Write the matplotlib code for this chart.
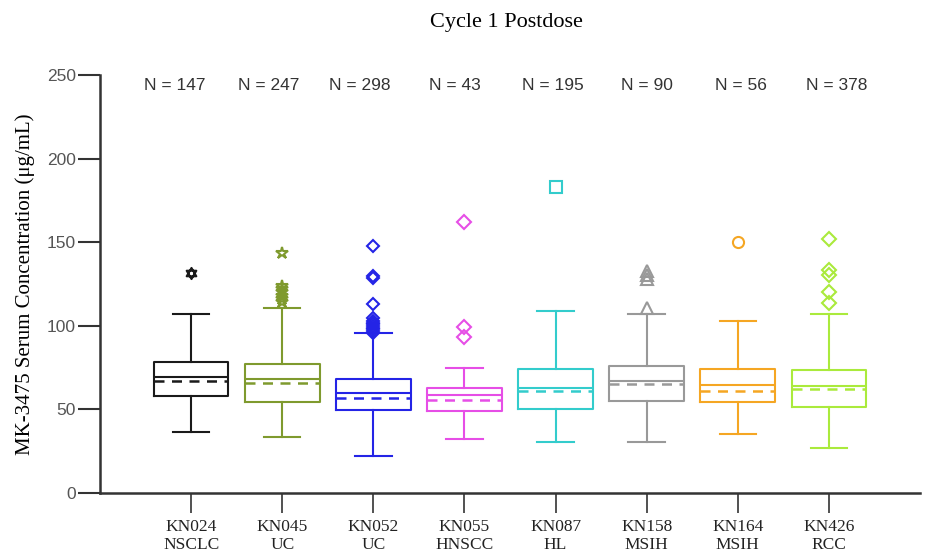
import matplotlib
matplotlib.use("Agg")
import matplotlib.pyplot as plt
from matplotlib.path import Path

# Study / tumour labels and sample sizes
studies = ["KN024", "KN045", "KN052", "KN055", "KN087", "KN158", "KN164", "KN426"]
tumours = ["NSCLC", "UC", "UC", "HNSCC", "HL", "MSIH", "MSIH", "RCC"]
n_counts = [147, 247, 298, 43, 195, 90, 56, 378]

# Box summary values (ug/mL)
whisk_lo = [36.5, 33.3, 22.3, 32.3, 30.7, 30.7, 35.3, 26.7]
q1 = [58.0, 54.4, 49.5, 49.2, 50.2, 55.2, 54.4, 51.3]
medians = [69.2, 68.0, 60.0, 58.6, 63.0, 67.2, 64.4, 63.8]
means = [67.0, 66.0, 56.8, 55.4, 60.8, 65.2, 60.8, 62.0]
q3 = [78.3, 77.0, 68.0, 63.0, 74.3, 76.0, 74.3, 73.6]
whisk_hi = [107.0, 110.6, 95.5, 74.6, 108.9, 107.0, 102.9, 107.2]
outliers = [
    [131.4],
    [143.5, 124.0, 122.0, 120.0, 118.0, 116.0, 114.0],
    [148.0, 130.0, 128.5, 113.0, 104.5, 103.0, 102.0, 101.0, 100.0, 99.0, 98.0, 97.0, 96.0],
    [162.0, 99.5, 93.1],
    [183.0],
    [133.0, 130.5, 128.0, 110.5],
    [150.0],
    [152.0, 133.5, 130.5, 120.0, 113.5],
]

colors = ["#1a1a1a", "#7f9a2e", "#2424e6", "#e64ee6", "#33cccc", "#999999", "#f5a623", "#aaea3c"]

# the N = ... labels sit on their own, slightly wider spacing than the boxes
n_label_x = [0.82, 1.85, 2.85, 3.89, 4.97, 6.0, 7.03, 8.09]

# six-pointed star built from two overlapping triangles
hexagram = Path(
    [(0, 1), (0.866, -0.5), (-0.866, -0.5), (0, 1),
     (0, -1), (0.866, 0.5), (-0.866, 0.5), (0, -1)],
    [Path.MOVETO, Path.LINETO, Path.LINETO, Path.CLOSEPOLY,
     Path.MOVETO, Path.LINETO, Path.LINETO, Path.CLOSEPOLY],
)
markers = [hexagram, "*", "D", "D", "s", "^", "o", "D"]
msizes = [8, 9, 6, 7, 8, 8, 8, 7]

fig = plt.figure(figsize=(9.26, 5.53), dpi=100)
ax = fig.add_axes([0.108, 0.1085, 0.8855, 0.7555])

for i in range(len(studies)):
    stats = [{
        "whislo": whisk_lo[i], "q1": q1[i], "med": medians[i], "mean": means[i],
        "q3": q3[i], "whishi": whisk_hi[i], "fliers": outliers[i],
    }]
    c = colors[i]
    lw = 1.5
    ax.bxp(
        stats, positions=[i + 1], widths=0.82, showmeans=True, meanline=True,
        showfliers=True, capwidths=0.4,
        boxprops=dict(color=c, linewidth=lw),
        whiskerprops=dict(color=c, linewidth=lw),
        capprops=dict(color=c, linewidth=lw),
        medianprops=dict(color=c, linewidth=lw),
        meanprops=dict(color=c, linewidth=lw + 0.3, linestyle=(0, (4, 3))),
        flierprops=dict(marker=markers[i], markersize=msizes[i], markerfacecolor="none",
                        markeredgecolor=c, markeredgewidth=1.5, linestyle="none"),
    )
    ax.text(n_label_x[i], 244, f"N = {n_counts[i]}", ha="center", va="center",
            fontsize=12.5, family="Liberation Sans", color="#333333")

ax.set_xlim(0, 9)
ax.set_ylim(0, 250)
ax.set_yticks([0, 50, 100, 150, 200, 250])
ax.set_xticks(range(1, 9))
ax.set_xticklabels([f"{s}\n{t}" for s, t in zip(studies, tumours)],
                   family="Liberation Serif", fontsize=12.5, linespacing=1.2,
                   color="#222222")
for lbl in ax.get_yticklabels():
    lbl.set_family(["Liberation Sans Narrow", "Liberation Sans"])
    lbl.set_fontsize(12.5)
    lbl.set_color("#555555")

for side in ["top", "right"]:
    ax.spines[side].set_visible(False)
for side in ["left", "bottom"]:
    ax.spines[side].set_linewidth(1.8)
    ax.spines[side].set_color("#333333")
ax.tick_params(axis="x", length=14.5, width=1.2, color="#333333", pad=4)
ax.tick_params(axis="y", length=16, width=1.5, color="#333333", pad=1.5)

ax.set_ylabel("MK-3475 Serum Concentration (μg/mL)", family="Liberation Serif",
              fontsize=15, labelpad=8)
fig.text(506 / 926, 1 - 22 / 553, "Cycle 1 Postdose", ha="center", va="center",
         family="Liberation Serif", fontsize=16)

fig.savefig("out.png", dpi=100)
